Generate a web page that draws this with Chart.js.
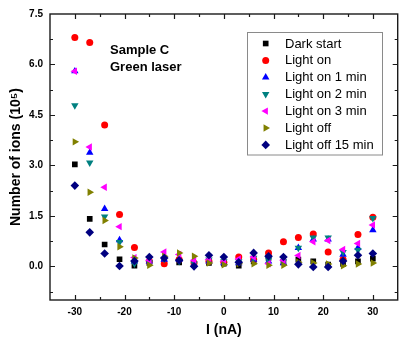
<!DOCTYPE html>
<html>
<head>
<meta charset="utf-8">
<script src="https://cdn.jsdelivr.net/npm/chart.js"></script>
<style>
  html, body { margin: 0; padding: 0; background: #fff; }
  #wrap { width: 402px; height: 339px; }
  canvas { display: block; }
</style>
</head>
<body>
<div id="wrap"><canvas id="c" width="402" height="339"></canvas></div>
<script>
// Sample C, green laser: ion counts (in 10^5) versus current I (nA)
const currents = [-30, -27, -24, -21, -18, -15, -12, -9, -6, -3, 0, 3, 6, 9, 12, 15, 18, 21, 24, 27, 30];

const darkStart   = [3.03, 1.41, 0.65, 0.21, 0.02, 0.10, 0.15, 0.12, 0.05, 0.10, 0.08, 0.02, 0.15, 0.25, 0.12, 0.20, 0.15, 0.05, 0.07, 0.15, 0.23];
const lightOn     = [6.80, 6.65, 4.20, 1.54, 0.56, 0.15, 0.08, 0.20, 0.10, 0.15, 0.12, 0.28, 0.20, 0.40, 0.73, 0.86, 0.96, 0.43, 0.20, 0.95, 1.46];
const lightOn1min = [5.80, 3.38, 1.71, 0.78, 0.15, 0.15, 0.20, 0.20, 0.05, 0.15, 0.10, 0.10, 0.20, 0.15, 0.10, 0.55, 0.80, 0.80, 0.35, 0.55, 1.08];
const lightOn2min = [4.78, 3.08, 1.48, 0.72, 0.08, 0.12, 0.22, 0.15, 0.08, 0.20, 0.15, 0.15, 0.25, 0.20, 0.15, 0.55, 0.85, 0.85, 0.42, 0.48, 1.43];
const lightOn3min = [5.80, 3.55, 2.35, 1.18, 0.26, 0.18, 0.43, 0.35, 0.18, 0.20, 0.15, 0.22, 0.28, 0.08, 0.18, 0.32, 0.73, 0.77, 0.50, 0.68, 1.23];
const lightOff    = [3.70, 2.20, 1.36, 0.58, 0.25, 0.03, 0.30, 0.40, 0.30, 0.10, 0.05, 0.08, 0.08, 0.03, 0.03, 0.12, 0.10, 0.07, 0.02, 0.07, 0.10];
const lightOff15  = [2.40, 1.01, 0.38, 0.01, 0.16, 0.28, 0.25, 0.18, 0.00, 0.33, 0.28, 0.12, 0.40, 0.30, 0.28, 0.06, -0.02, -0.02, 0.16, 0.33, 0.38];

const seriesNames = ['Dark start', 'Light on', 'Light on 1 min', 'Light on 2 min', 'Light on 3 min', 'Light off', 'Light off 15 min'];
const seriesValues = [darkStart, lightOn, lightOn1min, lightOn2min, lightOn3min, lightOff, lightOff15];

const yTickLabels = ['0.0', '1.5', '3.0', '4.5', '6.0', '7.5'];
const xTickLabels = ['-30', '-20', '-10', '0', '10', '20', '30'];

const annotationLines = ['Sample C', 'Green laser'];

// marker look per series
const markerStyles = [
  { color: '#000000', style: 'rect',     rot: 0,   r: 4 },
  { color: '#ff0000', style: 'circle',   rot: 0,   r: 3.5 },
  { color: '#0000ff', style: 'triangle', rot: 0,   r: 4.3 },
  { color: '#008080', style: 'triangle', rot: 180, r: 4.3 },
  { color: '#ff00ff', style: 'triangle', rot: 270, r: 4.3 },
  { color: '#808000', style: 'triangle', rot: 90,  r: 4.3 },
  { color: '#000080', style: 'rectRot',  rot: 0,   r: 4.3 }
];

const datasets = seriesNames.map((name, i) => ({
  label: name,
  data: currents.map((x, k) => ({ x: x, y: seriesValues[i][k] })),
  pointStyle: markerStyles[i].style,
  pointRotation: markerStyles[i].rot,
  pointRadius: markerStyles[i].r,
  pointBackgroundColor: markerStyles[i].color,
  pointBorderColor: markerStyles[i].color,
  pointBorderWidth: 0,
  showLine: false,
  order: seriesNames.length - 1 - i
}));

function drawMarker(ctx, m, x, y) {
  const opts = { pointStyle: m.style, rotation: m.rot, radius: m.r, borderWidth: 0 };
  ctx.save();
  ctx.fillStyle = m.color;
  ctx.strokeStyle = m.color;
  ctx.lineWidth = 0;
  if (Chart.helpers && Chart.helpers.drawPoint) {
    Chart.helpers.drawPoint(ctx, opts, x, y);
  } else {
    ctx.beginPath();
    ctx.arc(x, y, m.r, 0, Math.PI * 2);
    ctx.fill();
  }
  ctx.restore();
}

// box frame with inward ticks on all four sides, legend and annotation
const framePlugin = {
  id: 'frame',
  afterDraw(chart) {
    const { ctx, chartArea: a, scales } = chart;
    const xs = scales.x, ys = scales.y;
    ctx.save();
    ctx.strokeStyle = '#1a1a1a';
    ctx.lineWidth = 1.4;
    ctx.strokeRect(a.left, a.top, a.right - a.left, a.bottom - a.top);

    ctx.lineWidth = 1.2;
    const major = 5, minor = 3;
    // x ticks every 5, major every 10
    for (let v = -35; v <= 35; v += 5) {
      const px = Math.round(xs.getPixelForValue(v)) + 0.5;
      if (px <= a.left + 1 || px >= a.right - 1) continue;
      const len = (v % 10 === 0) ? major : minor;
      ctx.beginPath();
      ctx.moveTo(px, a.bottom); ctx.lineTo(px, a.bottom - len);
      ctx.moveTo(px, a.top); ctx.lineTo(px, a.top + len);
      ctx.stroke();
    }
    // y ticks every 0.75, major every 1.5
    for (let k = -1; k <= 10; k++) {
      const v = k * 0.75;
      const py = Math.round(ys.getPixelForValue(v)) + 0.5;
      if (py <= a.top + 1 || py >= a.bottom - 1) continue;
      const len = (k % 2 === 0) ? major : minor;
      ctx.beginPath();
      ctx.moveTo(a.left, py); ctx.lineTo(a.left + len, py);
      ctx.moveTo(a.right, py); ctx.lineTo(a.right - len, py);
      ctx.stroke();
    }

    // annotation text
    ctx.fillStyle = '#000';
    ctx.font = 'bold 13px "Liberation Sans", Arial, sans-serif';
    ctx.textAlign = 'left';
    ctx.textBaseline = 'alphabetic';
    ctx.fillText(annotationLines[0], 110, 53.5);
    ctx.fillText(annotationLines[1], 110, 70.5);

    // legend box
    const lx = 247.5, ly = 32.5, lw = 135, lh = 122.5;
    ctx.fillStyle = '#fff';
    ctx.fillRect(lx, ly, lw, lh);
    ctx.strokeStyle = '#8a8a8a';
    ctx.lineWidth = 1;
    ctx.strokeRect(lx, ly, lw, lh);
    ctx.font = '13px "Liberation Sans", Arial, sans-serif';
    ctx.textBaseline = 'middle';
    seriesNames.forEach((name, i) => {
      const cy = 43.5 + i * 16.9;
      drawMarker(ctx, markerStyles[i], 265.7, cy);
      ctx.fillStyle = '#000';
      ctx.fillText(name, 285, cy + 0.5);
    });
    ctx.restore();
  }
};

const tickFont = { family: '"Liberation Sans", Arial, sans-serif', size: 10, weight: 'bold' };
const titleFont = { family: '"Liberation Sans", Arial, sans-serif', size: 14, weight: 'bold' };

new Chart(document.getElementById('c'), {
  type: 'scatter',
  data: { datasets },
  options: {
    responsive: false,
    animation: false,
    events: [],
    layout: { padding: { left: 0, right: 3, top: 14, bottom: 0 } },
    plugins: { legend: { display: false }, tooltip: { enabled: false } },
    scales: {
      x: {
        type: 'linear',
        min: -35, max: 35,
        grid: { display: false, drawTicks: false },
        border: { display: false },
        afterBuildTicks: (s) => { s.ticks = xTickLabels.map(t => ({ value: Number(t) })); },
        ticks: {
          padding: 6,
          color: '#000',
          autoSkip: false,
          maxRotation: 0,
          font: tickFont,
          callback: (v) => { const i = xTickLabels.indexOf(String(v)); return i >= 0 ? xTickLabels[i] : ''; }
        },
        title: { display: true, text: 'I (nA)', color: '#000', font: titleFont, padding: { top: 0, bottom: 0 } },
        afterFit: (s) => { s.height = 39; }
      },
      y: {
        type: 'linear',
        min: -1, max: 7.5,
        grid: { display: false, drawTicks: false },
        border: { display: false },
        afterBuildTicks: (s) => { s.ticks = yTickLabels.map(t => ({ value: Number(t) })); },
        ticks: {
          padding: 7,
          color: '#000',
          autoSkip: false,
          font: tickFont,
          callback: (v) => { const i = Math.round(v / 1.5); return yTickLabels[i] || ''; }
        },
        title: { display: true, text: 'Number of ions (10⁵)', color: '#000', font: titleFont, padding: { top: 8, bottom: 0 } },
        afterFit: (s) => { s.width = 50; }
      }
    }
  },
  plugins: [framePlugin]
});
</script>
</body>
</html>
